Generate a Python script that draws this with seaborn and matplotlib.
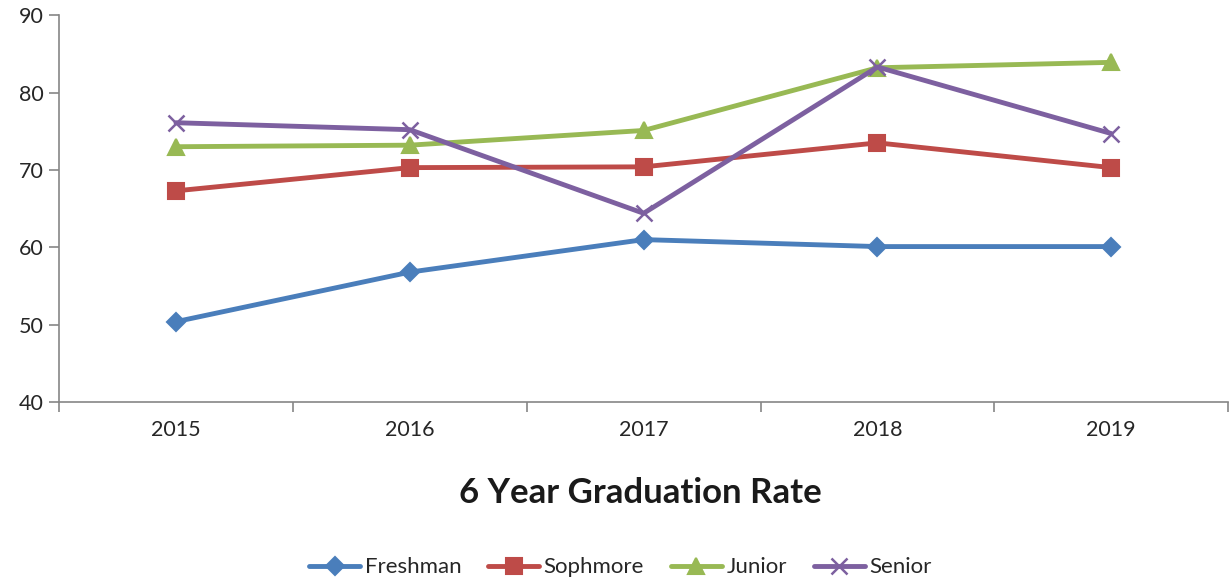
import pandas as pd
import numpy as np
import matplotlib
matplotlib.use("Agg")
import matplotlib.pyplot as plt
import seaborn as sns

years = ["2015", "2016", "2017", "2018", "2019"]
freshman = [50.4, 56.8, 61.0, 60.1, 60.1]
sophmore = [67.3, 70.3, 70.4, 73.5, 70.3]
junior = [73.0, 73.2, 75.1, 83.2, 83.9]
senior = [76.1, 75.2, 64.4, 83.3, 74.7]

series = {"Freshman": freshman, "Sophmore": sophmore, "Junior": junior, "Senior": senior}
colors = {"Freshman": "#4a7ebb", "Sophmore": "#be4b48", "Junior": "#98b954", "Senior": "#7d60a0"}
markers = {"Freshman": "D", "Sophmore": "s", "Junior": "^", "Senior": "x"}
msizes = {"Freshman": 9, "Sophmore": 12, "Junior": 12, "Senior": 12}

rows = []
for name, vals in series.items():
    for i, v in enumerate(vals):
        rows.append({"pos": i, "year": years[i], "group": name, "rate": v})
df = pd.DataFrame(rows)

sns.set_theme(style="white")
plt.rcParams["font.family"] = ["Lato", "DejaVu Sans"]

fig = plt.figure(figsize=(12.31, 5.82), dpi=100)
ax = fig.add_axes([0.048, 0.309, 0.9497, 0.665])

for name in series:
    sub = df[df["group"] == name]
    sns.lineplot(data=sub, x="pos", y="rate", ax=ax, color=colors[name],
                 linewidth=3.5, marker=markers[name], markersize=msizes[name],
                 markeredgewidth=1.5 if name != "Senior" else 1.8,
                 markeredgecolor=colors[name], label=name)

ax.set_xlim(-0.5, 4.5)
ax.set_ylim(40, 90)
ax.set_yticks(np.arange(40, 91, 10))
ax.set_xticks(range(len(years)))
ax.set_xticklabels(years)
ax.set_xticks(np.arange(-0.5, 4.6, 1), minor=True)
ax.tick_params(axis="x", which="major", length=0, pad=13, labelsize=15.5)
ax.tick_params(axis="x", which="minor", length=7, width=1.2, color="#868686", direction="out", bottom=True)
ax.tick_params(axis="y", length=7, width=1.2, color="#868686", direction="out", left=True, labelsize=15.5, pad=4)
ax.set_xlabel("")
ax.set_ylabel("")
for s in ["top", "right"]:
    ax.spines[s].set_visible(False)
for s in ["left", "bottom"]:
    ax.spines[s].set_color("#868686")
    ax.spines[s].set_linewidth(1.2)
ax.grid(False)

fig.text(0.52, 0.153, "6 Year Graduation Rate", ha="center", va="center",
         fontsize=25, fontweight="bold", color="#1a1a1a")

handles, labels = ax.get_legend_handles_labels()
ax.legend(handles, labels, loc="center", ncol=4, frameon=False, fontsize=16,
          handlelength=2.3, columnspacing=1.2, handletextpad=0.2)
ax.get_legend().set_bbox_to_anchor((0.504, 0.025), transform=fig.transFigure)

plt.savefig("out.png", dpi=100)
